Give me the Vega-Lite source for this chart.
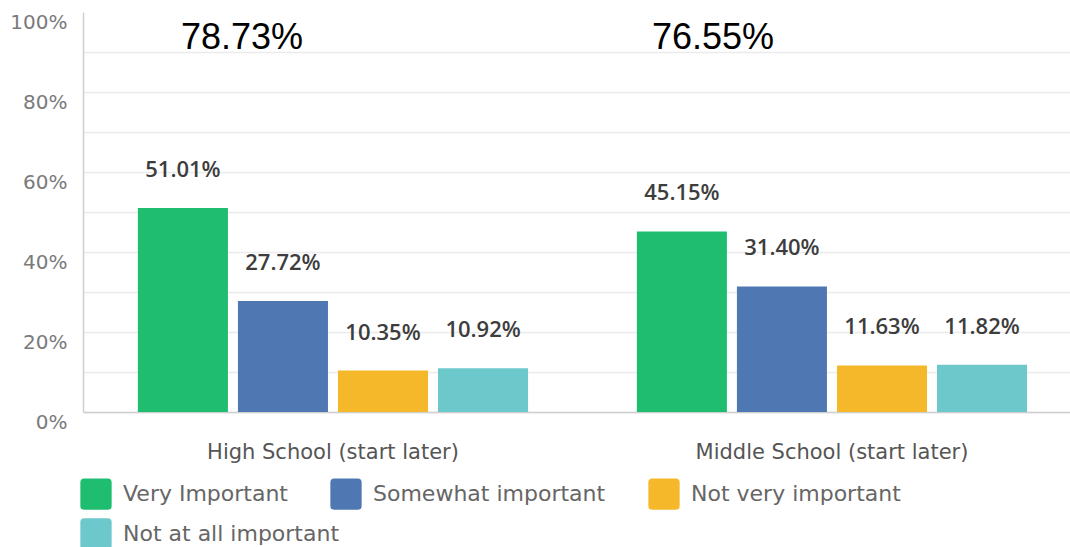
{
  "$schema": "https://vega.github.io/schema/vega-lite/v6.json",
  "autosize": {"type": "none"},
  "padding": {"left": 83, "top": 12, "right": 0, "bottom": 135},
  "width": 987,
  "height": 400,
  "background": "white",
  "config": {"view": {"stroke": null}, "font": "DejaVu Sans"},
  "datasets": {
    "bars": [
      {"group": "High School (start later)", "rating": "Very Important", "value": 0.5101},
      {"group": "High School (start later)", "rating": "Somewhat important", "value": 0.2772},
      {"group": "High School (start later)", "rating": "Not very important", "value": 0.1035},
      {"group": "High School (start later)", "rating": "Not at all important", "value": 0.1092},
      {"group": "Middle School (start later)", "rating": "Very Important", "value": 0.4515},
      {"group": "Middle School (start later)", "rating": "Somewhat important", "value": 0.3140},
      {"group": "Middle School (start later)", "rating": "Not very important", "value": 0.1163},
      {"group": "Middle School (start later)", "rating": "Not at all important", "value": 0.1182}
    ],
    "legend2": [{"group": "High School (start later)", "rating": "Not at all important", "rating2": "Not at all important"}],
    "note1": [{"group": "High School (start later)", "rating": "Very Important", "label": "78.73%"}],
    "note2": [{"group": "Middle School (start later)", "rating": "Very Important", "label": "76.55%"}]
  },
  "encoding": {
    "x": {
      "field": "group", "type": "nominal",
      "sort": ["High School (start later)", "Middle School (start later)"],
      "scale": {"paddingInner": 0.198, "paddingOuter": 0.088, "align": 0.568},
      "axis": {"title": null, "labelAngle": 0, "ticks": false, "domainColor": "#cfcfcf", "domainWidth": 1.5,
               "labelFontSize": 21, "labelColor": "#555555", "labelPadding": 29, "labelBaseline": "top",
               "labelLimit": 500, "grid": false}
    },
    "xOffset": {
      "field": "rating", "type": "nominal",
      "sort": ["Very Important", "Somewhat important", "Not very important", "Not at all important"],
      "scale": {"paddingInner": 0.1, "paddingOuter": 0.05}
    }
  },
  "layer": [
    {
      "data": {"name": "bars"},
      "mark": {"type": "bar"},
      "encoding": {
        "y": {
          "field": "value", "type": "quantitative",
          "scale": {"domain": [0, 1], "nice": false},
          "axis": {
            "title": null, "values": [0, 0.1, 0.2, 0.3, 0.4, 0.5, 0.6, 0.7, 0.8, 0.9, 1.0],
            "tickCount": 12,
            "format": ".0%",
            "labelExpr": "round(datum.value*100) % 20 == 0 ? datum.label : ''",
            "labelOverlap": false,
            "ticks": false, "domainColor": "#cfcfcf", "domainWidth": 1.5,
            "gridWidth": 1.5,
            "gridColor": {"condition": {"test": "datum.value >= 0.99", "value": "transparent"}, "value": "#ebebeb"},
            "labelFontSize": 20, "labelColor": "#7a7a7a", "labelPadding": 16, "labelOffset": 10
          }
        },
        "color": {
          "field": "rating", "type": "nominal",
          "sort": ["Very Important", "Somewhat important", "Not very important", "Not at all important"],
          "scale": {
            "domain": ["Very Important", "Somewhat important", "Not very important", "Not at all important"],
            "range": ["#1fbd6f", "#4f78b3", "#f6b82b", "#6cc8cb"]
          },
          "legend": {
            "orient": "none", "legendX": -3, "legendY": 466, "direction": "horizontal",
            "values": ["Very Important", "Somewhat important", "Not very important"],
            "title": null,
            "symbolType": "M-1,-0.75 Q-1,-1 -0.75,-1 L0.75,-1 Q1,-1 1,-0.75 L1,0.75 Q1,1 0.75,1 L-0.75,1 Q-1,1 -1,0.75 Z",
            "symbolSize": 980, "symbolStrokeWidth": 0, "symbolOpacity": 1,
            "labelFontSize": 22, "labelColor": "#666666", "labelOffset": 11,
            "columnPadding": 42, "labelLimit": 400
          }
        }
      }
    },
    {
      "data": {"name": "legend2"},
      "mark": {"type": "text", "text": ""},
      "encoding": {
        "fill": {
          "field": "rating2", "type": "nominal",
          "scale": {"domain": ["Not at all important"], "range": ["#6cc8cb"]},
          "legend": {
            "orient": "none", "legendX": -3, "legendY": 506, "direction": "horizontal",
            "title": null,
            "symbolType": "M-1,-0.75 Q-1,-1 -0.75,-1 L0.75,-1 Q1,-1 1,-0.75 L1,0.75 Q1,1 0.75,1 L-0.75,1 Q-1,1 -1,0.75 Z",
            "symbolSize": 980, "symbolStrokeWidth": 0, "symbolOpacity": 1,
            "labelFontSize": 22, "labelColor": "#666666", "labelOffset": 11, "labelLimit": 400
          }
        }
      }
    },
    {
      "data": {"name": "bars"},
      "mark": {"type": "text", "dy": -31, "baseline": "alphabetic", "font": "Open Sans", "fontSize": 22, "fontWeight": 600, "color": "#3d3d3d"},
      "encoding": {
        "y": {"field": "value", "type": "quantitative"},
        "text": {"field": "value", "type": "quantitative", "format": ".2%"}
      }
    },
    {
      "data": {"name": "note1"},
      "mark": {"type": "text", "align": "left", "baseline": "alphabetic", "dx": -2, "dy": -3, "fontSize": 36, "font": "Liberation Sans", "color": "#000000"},
      "encoding": {
        "y": {"datum": 0.9, "type": "quantitative"},
        "text": {"field": "label"}
      }
    },
    {
      "data": {"name": "note2"},
      "mark": {"type": "text", "align": "left", "baseline": "alphabetic", "dx": -30, "dy": -3, "fontSize": 36, "font": "Liberation Sans", "color": "#000000"},
      "encoding": {
        "y": {"datum": 0.9, "type": "quantitative"},
        "text": {"field": "label"}
      }
    }
  ]
}
